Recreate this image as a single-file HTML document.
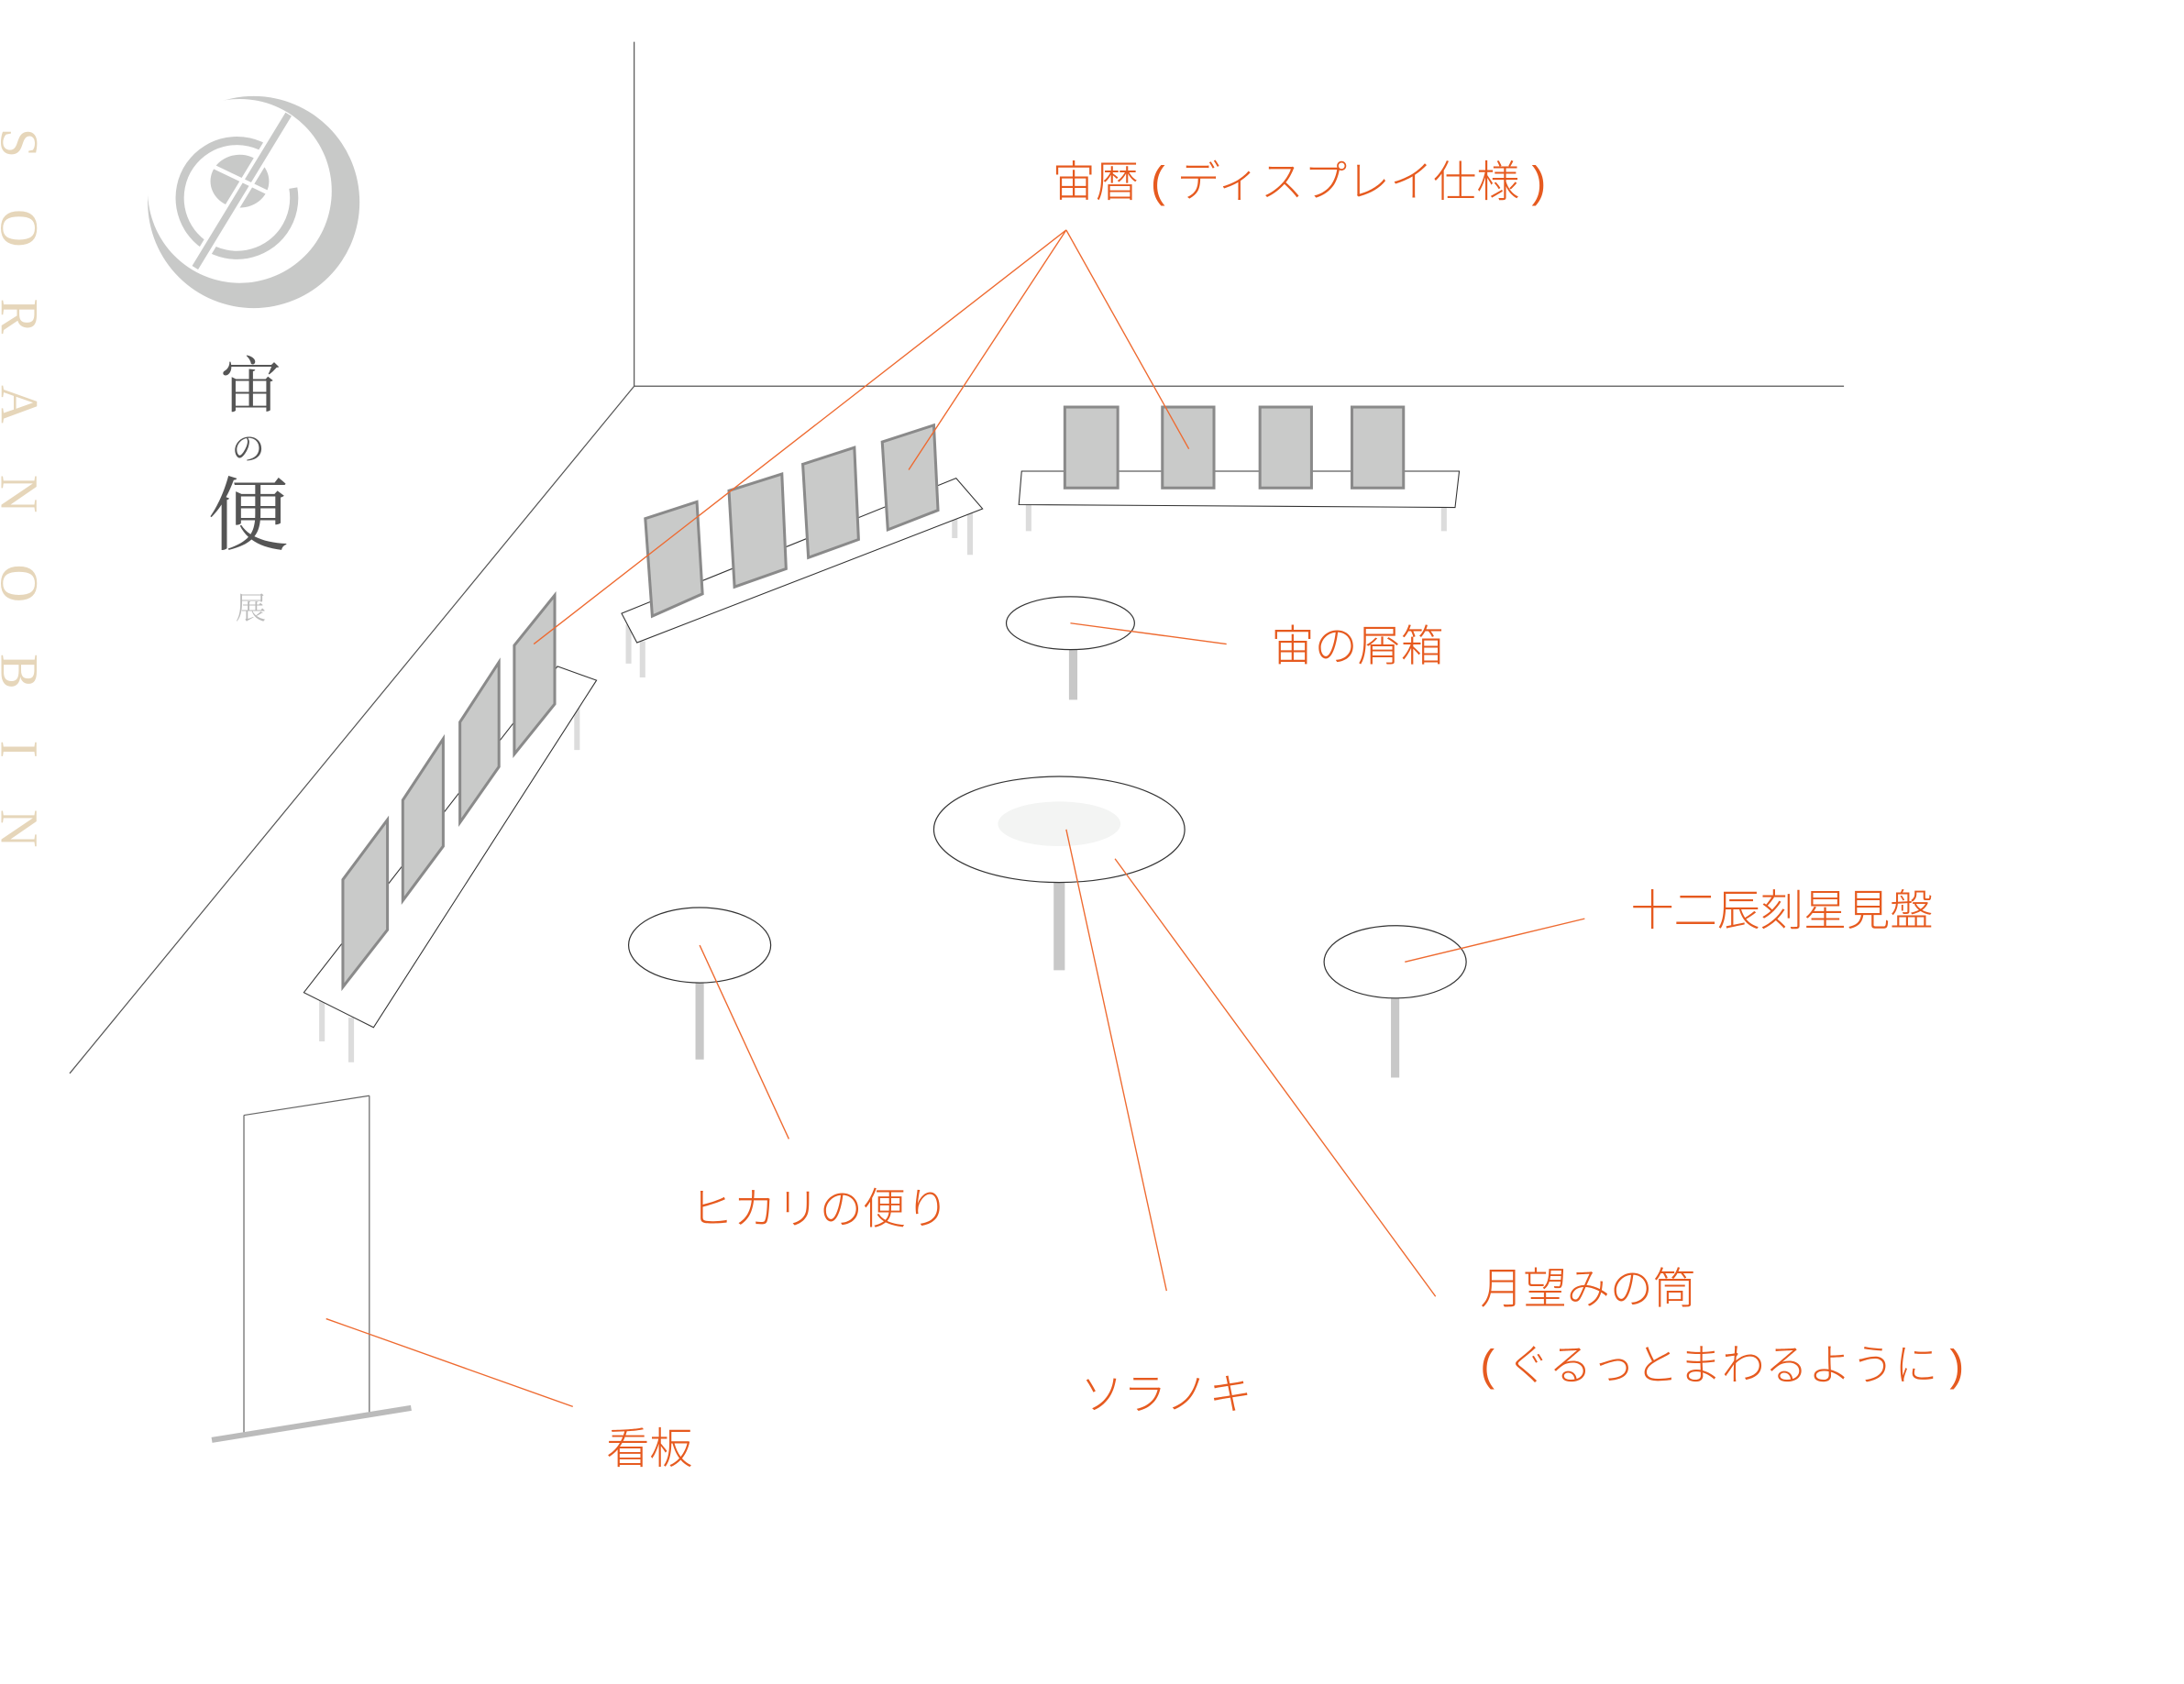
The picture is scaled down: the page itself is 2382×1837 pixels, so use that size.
<!DOCTYPE html>
<html><head><meta charset="utf-8"><style>
html,body{margin:0;padding:0;background:#fff;}
svg{display:block;}
.o{fill:#e65a1f;font-family:"Liberation Sans","Noto Sans CJK JP",sans-serif;font-size:31px;font-weight:300;}
.ol{stroke:#ee6a30;stroke-width:0.9;fill:none;}
.pn{fill:#c9cac9;stroke:#8a8a8a;stroke-width:2;}
.sh{fill:#fff;stroke:#333;stroke-width:0.7;}
.lg{stroke:#dcdcdc;stroke-width:4;}
.tl{stroke:#c8c8c8;}
</style></head><body>
<svg width="2382" height="1837" viewBox="0 0 1567 1208" preserveAspectRatio="none" xmlns="http://www.w3.org/2000/svg">
<!-- room -->
<g stroke="#555" stroke-width="0.8" fill="none">
<line x1="455" y1="30" x2="455" y2="277"/>
<line x1="455" y1="277" x2="1323" y2="277"/>
<line x1="455" y1="277" x2="50" y2="770"/>
</g>
<!-- logo -->
<g>
<circle cx="182" cy="145" r="76" fill="#c8c9c8"/>
<circle cx="172" cy="137" r="66" fill="#fff"/>
<circle cx="170" cy="142" r="41" fill="none" stroke="#c8c9c8" stroke-width="6" stroke-dasharray="225 33" transform="rotate(-10 170 142)"/>
<ellipse cx="172" cy="130" rx="21" ry="19" fill="#c8c9c8"/>
<line x1="207" y1="82" x2="140" y2="192" stroke="#fff" stroke-width="10"/>
<line x1="207" y1="82" x2="140" y2="192" stroke="#c8c9c8" stroke-width="5"/>
<line x1="150" y1="118" x2="196" y2="140" stroke="#fff" stroke-width="3"/>
</g>
<g font-family="'Noto Serif CJK SC','Noto Serif CJK JP',serif" fill="#555" text-anchor="middle">
<text x="180" y="292" font-size="44">宙</text>
<text x="178" y="330" font-size="24">の</text>
<text x="178" y="390" font-size="58">便</text>
<text x="180" y="444" font-size="22" fill="#bbb" font-weight="300">展</text>
</g>
<text transform="translate(1,92) rotate(90)" font-family="'Liberation Serif',serif" font-size="38" fill="#e6d6ba" textLength="516" lengthAdjust="spacing">SORANOBIN</text>

<!-- back table -->
<line class="lg" x1="738" y1="362" x2="738" y2="381"/>
<line class="lg" x1="1036" y1="364" x2="1036" y2="381"/>
<polygon class="sh" points="733,338 1047,338 1044,364 731,362"/>
<rect class="pn" x="764" y="292" width="38" height="58"/>
<rect class="pn" x="834" y="292" width="37" height="58"/>
<rect class="pn" x="904" y="292" width="37" height="58"/>
<rect class="pn" x="970" y="292" width="37" height="58"/>

<!-- middle table -->
<line class="lg" x1="451" y1="448" x2="451" y2="476"/>
<line class="lg" x1="461" y1="460" x2="461" y2="486"/>
<line class="lg" x1="685" y1="372" x2="685" y2="386"/>
<line class="lg" x1="696" y1="368" x2="696" y2="398"/>
<polygon class="sh" points="446,440 686,343 705,365 457,461"/>
<polygon class="pn" points="463,372 500,360 504,426 468,442"/>
<polygon class="pn" points="523,352 561,340 564,408 527,421"/>
<polygon class="pn" points="576,333 613,321 616,387 580,400"/>
<polygon class="pn" points="633,317 670,305 673,366 637,380"/>

<!-- left table -->
<line class="lg" x1="231" y1="717" x2="231" y2="747"/>
<line class="lg" x1="252" y1="730" x2="252" y2="762"/>
<line class="lg" x1="414" y1="505" x2="414" y2="538"/>
<polygon class="sh" points="218,712 400,478 428,488 268,737"/>
<polygon class="pn" points="246,631 278,588 278,667 246,708"/>
<polygon class="pn" points="289,574 318,530 318,607 289,646"/>
<polygon class="pn" points="330,518 358,475 358,550 330,590"/>
<polygon class="pn" points="369,463 398,427 398,505 369,541"/>

<!-- round tables -->
<line class="tl" x1="770" y1="462" x2="770" y2="502" stroke-width="6"/>
<ellipse cx="768" cy="447" rx="46" ry="19" fill="#fff" stroke="#333" stroke-width="0.8"/>
<line class="tl" x1="760" y1="630" x2="760" y2="696" stroke-width="8"/>
<ellipse cx="760" cy="595" rx="90" ry="38" fill="#fff" stroke="#333" stroke-width="0.8"/>
<ellipse cx="760" cy="591" rx="44" ry="16" fill="#f3f4f3"/>
<line class="tl" x1="502" y1="703" x2="502" y2="760" stroke-width="6"/>
<ellipse cx="502" cy="678" rx="51" ry="27" fill="#fff" stroke="#333" stroke-width="0.8"/>
<line class="tl" x1="1001" y1="715" x2="1001" y2="773" stroke-width="6"/>
<ellipse cx="1001" cy="690" rx="51" ry="26" fill="#fff" stroke="#333" stroke-width="0.8"/>

<!-- sign -->
<g stroke="#666" stroke-width="0.8" fill="none">
<line x1="175" y1="800" x2="265" y2="786"/>
<line x1="175" y1="800" x2="175" y2="1030"/>
<line x1="265" y1="786" x2="265" y2="1013"/>
</g>
<line x1="152" y1="1033" x2="295" y2="1010" stroke="#bbb" stroke-width="4"/>

<!-- callouts -->
<g class="ol">
<line x1="765" y1="165" x2="383" y2="462"/>
<line x1="765" y1="165" x2="652" y2="337"/>
<line x1="765" y1="165" x2="853" y2="322"/>
<line x1="768" y1="447" x2="880" y2="462"/>
<line x1="502" y1="678" x2="566" y2="817"/>
<line x1="1008" y1="690" x2="1137" y2="659"/>
<line x1="765" y1="595" x2="837" y2="926"/>
<line x1="800" y1="616" x2="1030" y2="930"/>
<line x1="234" y1="946" x2="411" y2="1009"/>
</g>
<text class="o" x="755" y="141">宙暦 ( ディスプレイ仕様 )</text>
<text class="o" x="912" y="474">宙の屑箱</text>
<text class="o" x="1170" y="664">十二辰刻星見盤</text>
<text class="o" x="495" y="878">ヒカリの便り</text>
<text class="o" x="1062" y="935">月望みの筒</text>
<text class="o" x="1062" y="990">( ぐるっとまわるように )</text>
<text class="o" x="775" y="1011">ソラノキ</text>
<text class="o" x="435" y="1050">看板</text>
</svg>
</body></html>
